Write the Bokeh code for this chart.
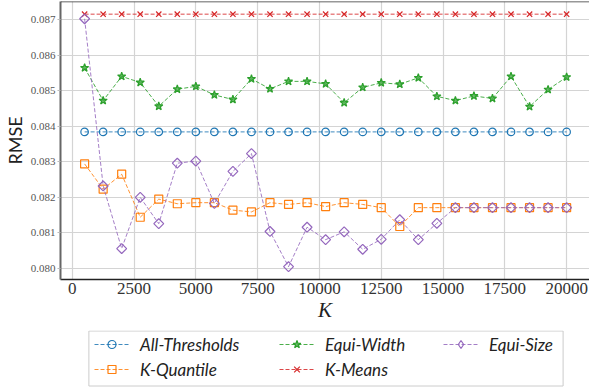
import math
from bokeh.plotting import figure
from bokeh.layouts import column
from bokeh.models import (Legend, LegendItem, Span, FixedTicker, PrintfTickFormatter,
                          Range1d, BoxAnnotation)
from bokeh.embed import file_html
from bokeh.resources import INLINE

K = [500, 1250, 2000, 2750, 3500, 4250, 5000, 5750, 6500, 7250, 8000, 8750, 9500,
     10250, 11000, 11750, 12500, 13250, 14000, 14750, 15500, 16250, 17000, 17750,
     18500, 19250, 20000]

all_thresholds = [0.08384] * 27
k_means = [0.08715] * 27
equi_width = [0.08564, 0.08472, 0.08540, 0.08523, 0.08456, 0.08504, 0.08512, 0.08488,
              0.08475, 0.08533, 0.08505, 0.08526, 0.08526, 0.08519, 0.08466, 0.08509,
              0.08522, 0.08518, 0.08536, 0.08484, 0.08472, 0.08485, 0.08478, 0.08540,
              0.08455, 0.08503, 0.08538]
k_quantile = [0.08294, 0.08223, 0.08265, 0.08144, 0.08195, 0.08182, 0.08185, 0.08185,
              0.08164, 0.08159, 0.08185, 0.08180, 0.08185, 0.08174, 0.08185, 0.08180,
              0.08171, 0.08118, 0.08171, 0.08171, 0.08171, 0.08171, 0.08171, 0.08171,
              0.08171, 0.08171, 0.08171]
equi_size = [0.08702, 0.08232, 0.08056, 0.08200, 0.08126, 0.08296, 0.08302, 0.08183,
             0.08273, 0.08323, 0.08104, 0.08005, 0.08116, 0.08081, 0.08103, 0.08054,
             0.08082, 0.08137, 0.08081, 0.08127, 0.08171, 0.08171, 0.08171, 0.08171,
             0.08171, 0.08171, 0.08171]

x_ticks = [0, 2500, 5000, 7500, 10000, 12500, 15000, 17500, 20000]
y_ticks = [0.080, 0.081, 0.082, 0.083, 0.084, 0.085, 0.086, 0.087]

# name, values, colour, plot marker, size, angle, filled, legend marker, legend size
series = [
    ("All-Thresholds", all_thresholds, "#1f77b4", "circle", 7.5, 0.0, False, "circle", 6.5),
    ("K-Quantile", k_quantile, "#ff7f0e", "square", 8, 0.0, False, "square", 7),
    ("Equi-Width", equi_width, "#2ca02c", "star", 8.5, 0.0, True, "star", 8),
    ("K-Means", k_means, "#d62728", "x", 7.5, 0.0, False, "x", 6.5),
    ("Equi-Size", equi_size, "#9467bd", "square", 7, math.pi / 4, False, "diamond", 10),
]
legend_columns = [["All-Thresholds", "K-Quantile"], ["Equi-Width", "K-Means"], ["Equi-Size"]]

Y0, Y1 = 0.07969, 0.087506
p = figure(width=589, height=330, output_backend="svg", toolbar_location=None,
           x_range=Range1d(-475, 20925), y_range=Range1d(Y0, Y1),
           min_border_left=54, min_border_right=0, min_border_top=1, min_border_bottom=51)

p.outline_line_color = None
p.background_fill_color = "white"
p.border_fill_color = "white"

p.xgrid.grid_line_color = "#d4d4d4"
p.ygrid.grid_line_color = "#d4d4d4"
p.xgrid.grid_line_width = 1.2
p.ygrid.grid_line_width = 1.2

p.xaxis.ticker = FixedTicker(ticks=x_ticks)
p.yaxis.ticker = FixedTicker(ticks=y_ticks)
p.yaxis.formatter = PrintfTickFormatter(format="%.3f")

p.xaxis.major_label_text_font = "Liberation Serif"
p.xaxis.major_label_text_font_size = "17px"
p.xaxis.major_label_text_color = "#333333"
p.yaxis.major_label_text_font = "Liberation Serif"
p.yaxis.major_label_text_font_size = "11px"
p.yaxis.major_label_text_color = "#555555"
p.xaxis.major_tick_out = 0
p.xaxis.major_tick_in = 0
p.yaxis.major_tick_out = 3
p.yaxis.major_tick_in = 0
p.yaxis.major_tick_line_color = "#bbbbbb"
p.xaxis.minor_tick_line_color = None
p.yaxis.minor_tick_line_color = None
p.xaxis.major_label_standoff = 3
p.yaxis.major_label_standoff = 2

p.xaxis.axis_line_color = "#222222"
p.xaxis.axis_line_width = 1.5
p.yaxis.axis_line_color = "#666666"
p.yaxis.axis_line_width = 2

p.xaxis.axis_label = "K"
p.xaxis.axis_label_text_font = "Liberation Serif"
p.xaxis.axis_label_text_font_style = "italic"
p.xaxis.axis_label_text_font_size = "21px"
p.xaxis.axis_label_text_color = "#222222"
p.xaxis.axis_label_standoff = 1

p.yaxis.axis_label = "RMSE"
p.yaxis.axis_label_text_font = "Lato"
p.yaxis.axis_label_text_font_style = "normal"
p.yaxis.axis_label_text_font_size = "18px"
p.yaxis.axis_label_text_color = "#222222"
p.yaxis.axis_label_standoff = 2

p.add_layout(Span(location=Y1, dimension="width", line_color="#333333", line_width=1.5))

# legend holder figure; its frame is aligned with the main frame (x from 54 to 589)
FL = 54
FW = 589 - FL
QX0 = -1000
q = figure(width=589, height=60, output_backend="svg", toolbar_location=None,
           x_range=Range1d(QX0, QX0 + FW), y_range=Range1d(60, 0),
           x_axis_type=None, y_axis_type=None, min_border=0)
q.outline_line_color = None
q.grid.visible = False
q.background_fill_color = "white"
q.border_fill_color = "white"

q.add_layout(BoxAnnotation(left=QX0 + 82.7 - FL, right=QX0 + 562.3 - FL, top=0.5, bottom=55.5,
                           fill_color="white", fill_alpha=1.0,
                           line_color="#cccccc", line_width=1, line_alpha=1.0))

item_map = {}
for name, vals, color, marker, size, angle, filled, lmarker, lsize in series:
    p.line(K, vals, line_color=color, line_width=1, line_dash="4 2", line_alpha=0.85)
    p.scatter(K, vals, marker=marker, size=size, angle=angle, line_color=color,
              line_width=1.2, fill_color=color if filled else None, fill_alpha=0.7)
    ln = q.line(K, vals, line_color=color, line_width=1, line_dash="4 2", line_alpha=0.85)
    sc = q.scatter(K, vals, marker=lmarker, size=lsize, line_color=color,
                   line_width=1.2, fill_color=color if filled else None, fill_alpha=0.7)
    item_map[name] = LegendItem(label=name, renderers=[ln, sc])

col_x = [88, 273, 437]
for cx, names in zip(col_x, legend_columns):
    n = len(names)
    h = n * 22 + (n - 1) * 3
    lg = Legend(items=[item_map[nm] for nm in names], location=(cx - FL, 60 - 3.3 - h),
                label_text_font="Lato", label_text_font_style="italic",
                label_text_font_size="17px", label_text_color="#222222",
                glyph_width=35, glyph_height=20, label_height=22, label_standoff=11,
                spacing=3, padding=0, margin=0,
                border_line_color=None, background_fill_alpha=0.0)
    q.add_layout(lg)

layout = column(p, q, spacing=0)
open("out.html", "w").write(file_html(layout, INLINE))
